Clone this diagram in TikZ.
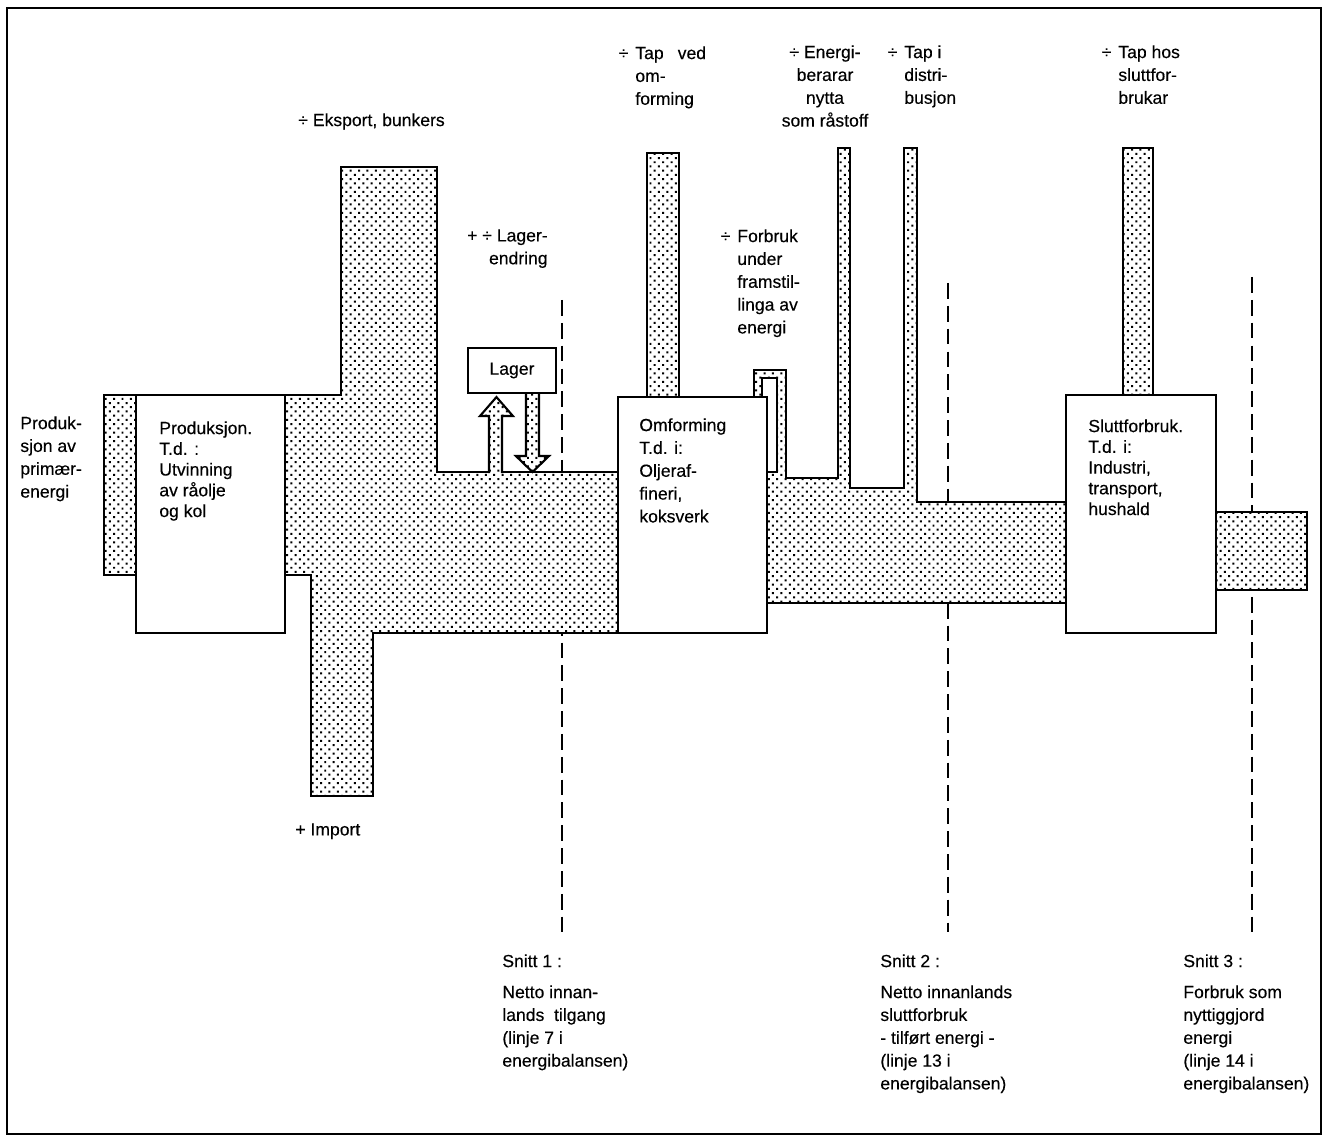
\documentclass[tikz,border=0pt]{standalone}
\usepackage{fontspec}
\setmainfont{Liberation Sans}[FakeBold=0.3]
\usetikzlibrary{patterns.meta}

\tikzset{
  flowband/.style={draw, line width=1.2pt, line join=miter, preaction={fill=white},
    pattern={Dots[angle=45,distance=3.4pt,radius=0.8pt]}},
  unitbox/.style={draw, fill=white, line width=1.2pt},
  snittline/.style={line width=0.9pt, dash pattern=on 9pt off 4pt},
  lbl/.style={anchor=north west, inner sep=0pt, align=left, font=\fontsize{10}{13}\selectfont},
  boxlbl/.style={lbl, font=\fontsize{10}{11.8}\selectfont},
}

\begin{document}
\begin{tikzpicture}[x=0.02cm, y=-0.02cm]
  \useasboundingbox (0,0) rectangle (1328,1138);

  % cuts through the flow
  \coordinate (cut1top) at (562,300);  \coordinate (cut1bot) at (562,932);
  \coordinate (cut2top) at (948,283);  \coordinate (cut2bot) at (948,932);
  \coordinate (cut3top) at (1252,277); \coordinate (cut3bot) at (1252,932);
  \draw[snittline] (cut1top) -- (cut1bot);
  \draw[snittline] (cut2top) -- (cut2bot);
  \draw[snittline] (cut3top) -- (cut3bot);

  % the energy flow
  \draw[flowband] (104,395) -- (341,395) -- (341,167) -- (437,167) -- (437,472)
    -- (618,472) -- (618,397) -- (647,397) -- (647,153) -- (679,153) -- (679,397)
    -- (754,397) -- (754,370) -- (786,370) -- (786,478)
    -- (838,478) -- (838,148) -- (850,148) -- (850,488)
    -- (904,488) -- (904,148) -- (917,148) -- (917,502)
    -- (1066,502) -- (1066,395) -- (1123,395) -- (1123,148) -- (1153,148) -- (1153,395)
    -- (1216,395) -- (1216,512) -- (1307,512) -- (1307,590) -- (1216,590) -- (1216,633)
    -- (1066,633) -- (1066,603) -- (767,603) -- (767,633)
    -- (373,633) -- (373,796) -- (311,796) -- (311,575) -- (104,575) -- cycle;

  % units
  \draw[unitbox] (136,395) rectangle (285,633);
  \draw[unitbox] (618,397) rectangle (767,633);
  \draw[unitbox] (1066,395) rectangle (1216,633);
  \draw[unitbox] (762,378) -- (777,378) -- (777,472) -- (767,472) -- (767,397) -- (762,397) -- cycle;

  \node[unitbox, minimum width=1.76cm, minimum height=0.9cm, inner sep=0pt,
    font=\fontsize{10}{13}\selectfont] (lager) at (512,370.5) {Lager};
  \begin{scope}[shift={(lager.south west)}]
    \draw[flowband] (22,79) -- (22,22) -- (13,22) -- (29.5,3) -- (46,22) -- (35,22) -- (35,79);
    \draw[flowband] (59,0) -- (59,62) -- (49,62) -- (65.5,78) -- (82,62) -- (72,62) -- (72,0);
  \end{scope}

  % texts
  \node[lbl] (primar) at (20,416) {Produk-\\sjon av\\primær-\\energi};
  \node[boxlbl] (prodtxt) at (159,421) {Produksjon.\\T.d. :\\Utvinning\\av råolje\\og kol};
  \node[lbl] (eksport) at (298,113) {÷ Eksport, bunkers};
  \node[lbl, anchor=north east, align=right] (lagerendr) at (548,229) {+ ÷ Lager-\\endring};
  \node[lbl] (import) at (295,823) {+ Import};
  \node[lbl] (tapomf) at (635,46) {\llap{÷\hspace{4pt}}Tap\hspace{8pt}ved\\om-\\forming};
  \node[lbl] (forbruk) at (737,229) {\llap{÷\hspace{4pt}}Forbruk\\under\\framstil-\\linga av\\energi};
  \node[lbl, anchor=north, align=center] (raastoff) at (825,45) {÷ Energi-\\berarar\\nytta\\som råstoff};
  \node[lbl] (tapdist) at (904,45) {\llap{÷\hspace{4pt}}Tap i\\distri-\\busjon};
  \node[lbl] (tapslutt) at (1118,45) {\llap{÷\hspace{4pt}}Tap hos\\sluttfor-\\brukar};
  \node[lbl] (omftxt) at (639,418) {Omforming\\T.d. i:\\Oljeraf-\\fineri,\\koksverk};
  \node[boxlbl] (slutttxt) at (1088,419) {Sluttforbruk.\\T.d. i:\\Industri,\\transport,\\hushald};

  \node[lbl] (snitt1) at (502,954) {Snitt 1 :};
  \node[lbl] (snitt1txt) at (502,985) {Netto innan-\\lands\ \ tilgang\\(linje 7 i\\energibalansen)};
  \node[lbl] (snitt2) at (880,954) {Snitt 2 :};
  \node[lbl] (snitt2txt) at (880,985) {Netto innanlands\\sluttforbruk\\- tilført energi -\\(linje 13 i\\energibalansen)};
  \node[lbl] (snitt3) at (1183,954) {Snitt 3 :};
  \node[lbl] (snitt3txt) at (1183,985) {Forbruk som\\nyttiggjord\\energi\\(linje 14 i\\energibalansen)};

  % frame
  \draw[line width=1.4pt] (7,8) rectangle (1321,1134);
\end{tikzpicture}
\end{document}
